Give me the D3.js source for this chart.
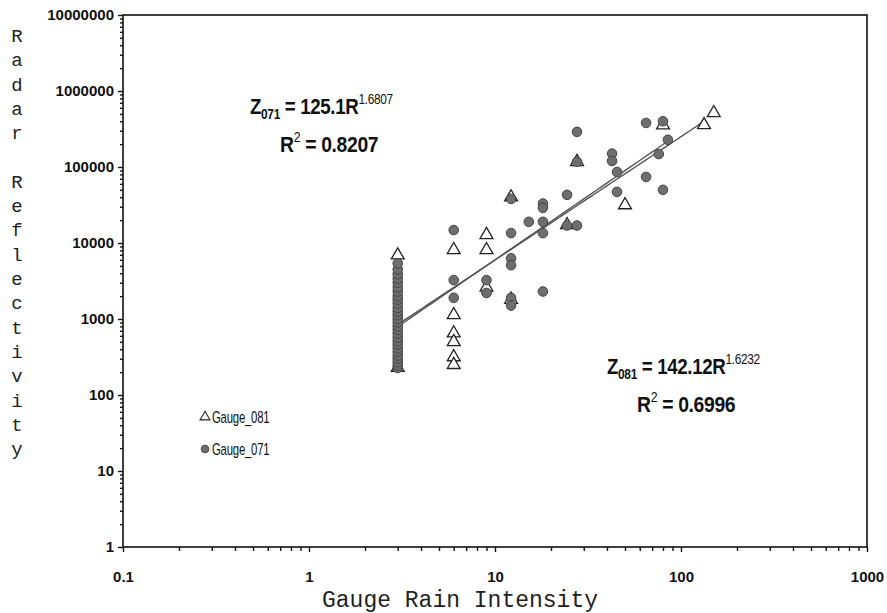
<!DOCTYPE html>
<html>
<head>
<meta charset="utf-8">
<script src="https://cdn.jsdelivr.net/npm/d3@7"></script>
<style>
  body { margin: 0; background: #fff; }
  .tick text { font-family: "Liberation Sans", Arial, sans-serif; font-weight: bold; }
</style>
</head>
<body>
<div id="chart"></div>
<script>
// gauge 081 (triangles)
var x081 = [3, 3,
            6, 6, 6, 6, 6, 6,
            9, 9, 9,
            12.2, 12.2,
            24.4, 27.6, 50, 80, 133, 150];
var z081 = [6900, 230,
            8100, 1130, 650, 500, 316, 250,
            12800, 8100, 2600,
            40000, 1800,
            17300, 117000, 31600, 355000, 357000, 515000];

// gauge 071 (circles)
var x071 = [3, 3, 3, 3, 3, 3, 3, 3, 3, 3, 3, 3, 3, 3, 3, 3, 3, 3, 3, 3, 3, 3, 3, 3, 3, 3, 3, 3,
            6, 6, 6,
            9, 9,
            12.2, 12.2, 12.2, 12.2, 12.2, 12.2,
            15.2,
            18.1, 18.1, 18.1, 18.1, 18.1,
            24.4, 24.4,
            27.6, 27.6, 27.6,
            42.6, 42.6,
            45.3, 45.3,
            64.9, 64.9,
            76, 80, 80, 85];
var z071 = [227, 245, 270, 300, 330, 370, 410, 460, 510, 570, 640, 720, 800, 900, 1000, 1120, 1250, 1400, 1600, 1800, 2000, 2300, 2600, 3000, 3400, 3900, 4500, 5400,
            14800, 3250, 1900,
            3250, 2200,
            38000, 13500, 6300, 5100, 1900, 1500,
            19000,
            33000, 29000, 19000, 13500, 2300,
            43000, 17000,
            290000, 117000, 17000,
            150000, 120000,
            86000, 47000,
            380000, 74000,
            148000, 400000, 50000, 228000];

// fitted power laws Z = a * R^b
var fit071 = {a: 125.1, b: 1.6807, r2: "0.8207", from: 3, to: 87};
var fit081 = {a: 142.12, b: 1.6232, r2: "0.6996", from: 3, to: 135};

var xTicks = [0.1, 1, 10, 100, 1000];
var yTicks = [1, 10, 100, 1000, 10000, 100000, 1000000, 10000000];
var yTitle = "Radar Reflectivity";
var xTitle = "Gauge Rain Intensity";

var width = 887, height = 613;
var margin = {top: 15, right: 20, bottom: 66, left: 123};

var svg = d3.select("#chart").append("svg")
    .attr("width", width)
    .attr("height", height);

var x = d3.scaleLog().domain([0.1, 1000]).range([margin.left, width - margin.right]);
var y = d3.scaleLog().domain([1, 10000000]).range([height - margin.bottom, margin.top]);

// minor ticks
function minors(majors) {
  var out = [];
  for (var i = 0; i < majors.length - 1; i++)
    for (var k = 2; k < 10; k++) out.push(majors[i] * k);
  return out;
}

svg.append("g")
    .attr("transform", "translate(0," + y(1) + ")")
    .call(d3.axisBottom(x).tickValues(minors(xTicks)).tickSize(4).tickFormat(""));
var xAxis = svg.append("g")
    .attr("transform", "translate(0," + y(1) + ")")
    .call(d3.axisBottom(x).tickValues(xTicks).tickSize(5).tickPadding(19)
      .tickFormat(function(d) { return d3.format("")(d); }));
svg.append("g")
    .attr("transform", "translate(" + x(0.1) + ",0)")
    .call(d3.axisLeft(y).tickValues(minors(yTicks)).tickSize(3).tickFormat(""));
var yAxis = svg.append("g")
    .attr("transform", "translate(" + x(0.1) + ",0)")
    .call(d3.axisLeft(y).tickValues(yTicks).tickSize(5).tickPadding(4)
      .tickFormat(d3.format("d")));

svg.selectAll(".domain").remove();
svg.selectAll(".tick line").attr("stroke", "#111").attr("stroke-width", 1.4);
xAxis.selectAll("text").style("font-size", "15px").attr("fill", "#111");
yAxis.selectAll("text").style("font-size", "15px").attr("fill", "#111");

// frame
svg.append("rect")
    .attr("x", x(0.1)).attr("y", y(10000000))
    .attr("width", x(1000) - x(0.1)).attr("height", y(1) - y(10000000))
    .attr("fill", "none").attr("stroke", "#111").attr("stroke-width", 1.6);

// trend lines
function trend(f) {
  var pts = d3.range(0, 41).map(function(i) {
    var r = f.from * Math.pow(f.to / f.from, i / 40);
    return [r, f.a * Math.pow(r, f.b)];
  });
  return d3.line().x(function(d) { return x(d[0]); }).y(function(d) { return y(d[1]); })(pts);
}
[fit071, fit081].forEach(function(f) {
  svg.append("path").attr("d", trend(f))
    .attr("fill", "none").attr("stroke", "#555").attr("stroke-width", 1.4);
});

var tri = d3.symbol().type(d3.symbolTriangle).size(72);

var d081 = x081.map(function(v, i) { return {x: v, z: z081[i]}; });
var d071 = x071.map(function(v, i) { return {x: v, z: z071[i]}; });

svg.selectAll("path.g081")
  .data(d081)
  .enter().append("path")
    .attr("class", "g081")
    .attr("d", tri)
    .attr("transform", function(d) { return "translate(" + x(d.x) + "," + y(d.z) + ")"; })
    .attr("fill", "#fff").attr("stroke", "#222").attr("stroke-width", 1.3);

svg.selectAll("circle.g071")
  .data(d071)
  .enter().append("circle")
    .attr("class", "g071")
    .attr("cx", function(d) { return x(d.x); })
    .attr("cy", function(d) { return y(d.z); })
    .attr("r", 4.8)
    .attr("fill", "#6e6e6e").attr("stroke", "#444").attr("stroke-width", 1);

// equations (condensed look by squeezing horizontally)
var eqFont = '"Liberation Sans", Arial, sans-serif';
function squeezed(xp, yp, sx) {
  return svg.append("g").attr("transform", "translate(" + xp + "," + yp + ") scale(" + sx + ",1)")
    .append("text")
    .attr("font-family", eqFont).attr("font-weight", "bold")
    .attr("font-size", 22).attr("fill", "#111").attr("letter-spacing", -0.4);
}
function equation(xp, yp, sub, f) {
  var t = squeezed(xp, yp, 0.85);
  t.append("tspan").text("Z");
  t.append("tspan").attr("dy", 5).attr("font-size", 14).text(sub);
  t.append("tspan").attr("dy", -5).text(" = " + f.a + "R");
  t.append("tspan").attr("dy", -10).attr("font-size", 14).attr("font-weight", "normal").text(String(f.b));
}
function rsq(xp, yp, f) {
  var t = squeezed(xp, yp, 0.88);
  t.append("tspan").text("R");
  t.append("tspan").attr("dy", -10).attr("font-size", 14).attr("font-weight", "normal").text("2");
  t.append("tspan").attr("dy", 10).text(" = " + f.r2);
}
equation(250, 114, "071", fit071);
rsq(280, 152, fit071);
equation(607, 374, "081", fit081);
rsq(637, 412, fit081);

// legend
svg.append("path").attr("d", d3.symbol().type(d3.symbolTriangle).size(42))
  .attr("transform", "translate(205,417)")
  .attr("fill", "#fff").attr("stroke", "#222").attr("stroke-width", 1.1);
svg.append("circle").attr("cx", 205).attr("cy", 449).attr("r", 3.8)
  .attr("fill", "#6e6e6e").attr("stroke", "#444");
[["Gauge_081", 423], ["Gauge_071", 455]].forEach(function(l) {
  svg.append("g").attr("transform", "translate(212," + l[1] + ") scale(0.71,1)")
    .append("text").text(l[0])
    .attr("font-family", eqFont).attr("font-size", 16).attr("letter-spacing", -0.3).attr("fill", "#111");
});

// axis titles
svg.append("text")
  .attr("x", 460).attr("y", 607)
  .attr("text-anchor", "middle")
  .attr("font-family", '"Liberation Mono", "Courier New", monospace')
  .attr("font-size", 23).attr("fill", "#222")
  .text(xTitle);

svg.append("g").selectAll("text")
  .data(yTitle.split(""))
  .enter().append("text")
    .attr("x", 17)
    .attr("y", function(d, i) { return 42 + i * 24.3; })
    .attr("text-anchor", "middle")
    .attr("font-family", '"Liberation Mono", "Courier New", monospace')
    .attr("font-size", 19).attr("fill", "#222")
    .text(function(d) { return d; });
</script>
</body>
</html>
